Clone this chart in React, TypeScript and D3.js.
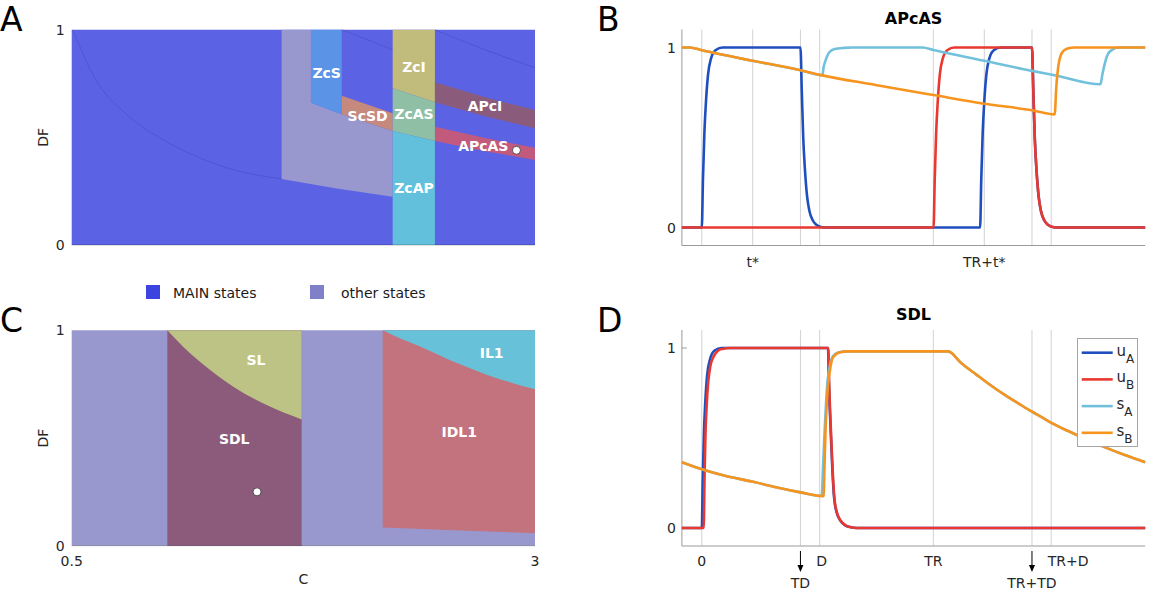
import * as d3 from "d3";

type P = [number, number];

// ---------- parameter plane (C, DF) : region outlines ----------
const mainA: P[] = [[0.5, 0], [3, 0], [3, 1], [0.5, 1]];
const otherA: P[] = [[1.633, 1], [1.791, 1], [1.791, 0.661], [1.957, 0.607], [2.232, 0.529], [2.232, 0.224], [1.93, 0.262], [1.633, 0.307]];
const zcsA: P[] = [[1.791, 1], [1.957, 1], [1.957, 0.607], [1.791, 0.661]];
const scsdA: P[] = [[1.957, 0.693], [2.232, 0.612], [2.232, 0.529], [1.957, 0.607]];
const zciA: P[] = [[2.232, 1], [2.46, 1], [2.46, 0.663], [2.232, 0.728]];
const zcasA: P[] = [[2.232, 0.728], [2.46, 0.663], [2.46, 0.483], [2.232, 0.529]];
const zcapA: P[] = [[2.232, 0.529], [2.46, 0.483], [2.46, 0], [2.232, 0]];
const apciA: P[] = [[2.46, 0.756], [2.73, 0.686], [3, 0.627], [3, 0.542], [2.73, 0.598], [2.46, 0.663]];
const apcasA: P[] = [[2.46, 0.549], [2.73, 0.497], [3, 0.452], [3, 0.395], [2.73, 0.436], [2.46, 0.483]];

// faint contour lines inside the MAIN area
const edgeA1: P[] = [[0.507, 1], [0.615, 0.79], [0.799, 0.604], [0.977, 0.497], [1.155, 0.418], [1.339, 0.358], [1.633, 0.307]];
const edgeA2: P[] = [[1.957, 1], [2.1, 0.952], [2.232, 0.907]];
const edgeA3: P[] = [[2.46, 1], [2.73, 0.907], [3, 0.823]];

const labelsA: [string, number, number][] = [
  ["ZcS", 1.876, 0.798], ["ZcI", 2.347, 0.828], ["ScSD", 2.097, 0.6], ["ZcAS", 2.347, 0.607],
  ["APcI", 2.73, 0.647], ["APcAS", 2.721, 0.461], ["ZcAP", 2.347, 0.263],
];
const dotA: P = [2.9, 0.44];

const otherC: P[] = [[0.5, 0], [3, 0], [3, 1], [0.5, 1]];
const sdlC: P[] = [[1.016, 0], [1.741, 0], [1.741, 1], [1.016, 1]];
const idlC: P[] = [[2.178, 0.084], [2.6, 0.07], [3, 0.058], [3, 1], [2.178, 1]];
// curved upper boundaries (left to right); the shapes close along the top edge
const slEdgeC: P[] = [[1.016, 1], [1.1, 0.925], [1.192, 0.854], [1.372, 0.738], [1.552, 0.653], [1.741, 0.586]];
const ilEdgeC: P[] = [[2.178, 1], [2.28, 0.96], [2.38, 0.925], [2.559, 0.855], [2.739, 0.794], [3, 0.726]];

const labelsC: [string, number, number][] = [
  ["SL", 1.494, 0.864], ["SDL", 1.377, 0.494], ["IL1", 2.766, 0.893], ["IDL1", 2.591, 0.526],
];
const dotC: P = [1.5, 0.25];

// ---------- time courses (t in units with TR = 100) ----------
const TR = 100;
const TSTAR = 22;
const TD = 42.6;
const DUR = 50.9;

const bUA: P[] = [[-8.6, 0], [0, 0], [0.5, 0.27], [1.1, 0.52], [1.8, 0.7], [2.7, 0.85], [4, 0.94], [5.9, 0.985], [9, 1],
  [42.6, 1], [43.2, 0.75], [43.8, 0.5], [44.5, 0.33], [45.5, 0.17], [46.5, 0.09], [47.9, 0.04], [49.5, 0.015], [51.5, 0.003], [54, 0],
  [120.2, 0], [120.7, 0.27], [121.3, 0.52], [122, 0.7], [122.9, 0.85], [124.2, 0.94], [126.1, 0.985], [129.2, 1],
  [142.6, 1], [143.2, 0.75], [143.8, 0.5], [144.5, 0.33], [145.5, 0.17], [146.5, 0.09], [147.9, 0.04], [149.5, 0.015], [151.5, 0.003], [154, 0], [191.5, 0]];
const bUB: P[] = [[-8.6, 0], [100.1, 0], [100.6, 0.27], [101.2, 0.52], [101.9, 0.7], [102.8, 0.85], [104.1, 0.94], [106, 0.985], [109.1, 1],
  [142.6, 1], [143.2, 0.75], [143.8, 0.5], [144.5, 0.33], [145.5, 0.17], [146.5, 0.09], [147.9, 0.04], [149.5, 0.015], [151.5, 0.003], [154, 0], [191.5, 0]];
const bSA: P[] = [[-8.6, 1], [-5.2, 1], [0, 0.985], [22, 0.926], [42.6, 0.874], [52.1, 0.846], [52.6, 0.89], [53.4, 0.926], [55, 0.972], [57.3, 0.991], [61.3, 0.998], [65, 1],
  [95.4, 1], [100.1, 0.986], [122, 0.926], [142.6, 0.87], [152.4, 0.846], [172.2, 0.796], [173, 0.85], [173.8, 0.898], [175.4, 0.963], [177.7, 0.991], [180.1, 1], [191.5, 1]];
const bSB: P[] = [[-8.6, 1], [-5.2, 1], [0, 0.985], [22, 0.926], [42.6, 0.874], [51, 0.848], [75, 0.792], [100.1, 0.736], [122, 0.688], [142.6, 0.651], [152.4, 0.628],
  [153.1, 0.78], [154, 0.898], [155.6, 0.972], [157.9, 0.994], [161.1, 1], [191.5, 1]];

const dUA: P[] = [[-8.6, 0], [0, 0], [0.4, 0.27], [0.9, 0.52], [1.5, 0.7], [2.3, 0.85], [3.6, 0.94], [5.4, 0.985], [8.5, 1],
  [54.5, 1], [54.9, 0.8], [55.7, 0.53], [56.4, 0.32], [57.2, 0.16], [58.4, 0.08], [59.9, 0.04], [61.9, 0.015], [63.9, 0.005], [67, 0], [191.5, 0]];
const dUB: P[] = [[-8.6, 0], [0.8, 0], [1.2, 0.3], [1.6, 0.53], [2.1, 0.68], [2.7, 0.8], [3.7, 0.9], [5, 0.95], [7, 0.985], [9, 0.995], [12, 1],
  [54.6, 1], [55, 0.8], [55.8, 0.53], [56.5, 0.32], [57.3, 0.16], [58.5, 0.08], [60, 0.04], [62, 0.015], [64, 0.005], [67, 0], [191.5, 0]];
const dSA: P[] = [[-8.6, 0.365], [0, 0.326], [10, 0.29], [21.7, 0.258], [32, 0.226], [42.6, 0.198], [51.8, 0.178],
  [52.3, 0.32], [52.9, 0.5], [53.6, 0.68], [54.2, 0.8], [55, 0.88], [55.8, 0.93], [57, 0.96], [58.9, 0.975], [62.9, 0.981],
  [106.4, 0.981], [112, 0.917], [118.3, 0.855], [124, 0.8], [131, 0.738], [137, 0.69], [142.6, 0.646], [147, 0.614], [151, 0.584],
  [158, 0.54], [164.3, 0.503], [170, 0.471], [175, 0.444], [183, 0.404], [191.5, 0.365]];
const dSB: P[] = [[-8.6, 0.365], [0, 0.326], [10, 0.29], [21.7, 0.258], [32, 0.226], [42.6, 0.198], [52.6, 0.176],
  [53, 0.35], [53.4, 0.528], [54, 0.7], [54.6, 0.806], [55.5, 0.89], [56.5, 0.944], [58, 0.965], [59.7, 0.976], [62.9, 0.981],
  [106.4, 0.981], [112, 0.917], [118.3, 0.855], [124, 0.8], [131, 0.738], [137, 0.69], [142.6, 0.646], [147, 0.614], [151, 0.584],
  [158, 0.54], [164.3, 0.503], [170, 0.471], [175, 0.444], [183, 0.404], [191.5, 0.365]];

const gridB = [0, TSTAR, TD, DUR, TR, TR + TSTAR, TR + TD, TR + DUR];
const gridD = [0, TD, DUR, TR, TR + TD, TR + DUR];
const tickTextB: [number, string][] = [[TSTAR, "t*"], [TR + TSTAR, "TR+t*"]];
const tickTextD: [number, string][] = [[0, "0"], [DUR, "D"], [TR, "TR"], [TR + DUR, "TR+D"]];
const arrowTextD: [number, string][] = [[TD, "TD"], [TR + TD, "TR+TD"]];

const legendNames: [string, string][] = [["u", "A"], ["u", "B"], ["s", "A"], ["s", "B"]];

// ---------- styles ----------
const FONT = "'DejaVu Sans', Verdana, sans-serif";
const INK = "#262626";
const lineColors = ["#1f4fbf", "#e8382f", "#72c1dc", "#f7941e"];

const xC = d3.scaleLinear().domain([0.5, 3]).range([71.7, 535]);
const yA = d3.scaleLinear().domain([0, 1]).range([245, 29.7]);
const yC = d3.scaleLinear().domain([0, 1]).range([545.7, 330.3]);
const xT = d3.scaleLinear().domain([-8.6, 191.5]).range([681.9, 1145.2]);
const yB = d3.scaleLinear().domain([-0.1, 1.1]).range([245.5, 29.5]);
const yD = d3.scaleLinear().domain([-0.1, 1.1]).range([546, 330]);

type S = d3.ScaleLinear<number, number>;

const poly = (pts: P[], y: S) => (d3.line<P>().x((d) => xC(d[0])).y((d) => y(d[1]))(pts) ?? "") + "Z";
const smooth = (pts: P[], y: S) =>
  d3.line<P>().x((d) => xC(d[0])).y((d) => y(d[1])).curve(d3.curveMonotoneX)(pts) ?? "";
// region bounded below by a smooth edge and above by DF = 1
const capShape = (edge: P[], y: S) => {
  const last = edge[edge.length - 1];
  return `${smooth(edge, y)}L${xC(last[0])},${y(1)}Z`;
};
const trace = (pts: P[], y: S) =>
  d3.line<P>().x((d) => xT(d[0])).y((d) => y(d[1])).curve(d3.curveMonotoneX)(pts) ?? "";

function PlaneAxes({ y, yLabelY, xTicks }: { y: S; yLabelY: number; xTicks: boolean }) {
  const [x0, x1] = xC.range();
  return (
    <g fontFamily={FONT} fill={INK}>
      <line x1={x0} x2={x1} y1={y(0)} y2={y(0)} stroke="#000" strokeOpacity={0.25} />
      {[0, 1].map((v) => (
        <text key={v} x={x0 - 7} y={y(v)} fontSize={14} textAnchor="end" dominantBaseline="central">{v}</text>
      ))}
      <text transform={`translate(${43},${yLabelY}) rotate(-90)`} fontSize={14} textAnchor="middle" dominantBaseline="central">DF</text>
      {xTicks && (
        <>
          <text x={xC(0.5)} y={566} fontSize={14} textAnchor="middle">0.5</text>
          <text x={xC(3)} y={566} fontSize={14} textAnchor="middle">3</text>
          <text x={(x0 + x1) / 2} y={584} fontSize={14} textAnchor="middle">C</text>
        </>
      )}
    </g>
  );
}

function RegionLabels({ items, y }: { items: [string, number, number][]; y: S }) {
  return (
    <g fontFamily={FONT} fontWeight="bold" fontSize={14} fill="#fff" textAnchor="middle">
      {items.map(([t, c, df]) => (
        <text key={t} x={xC(c)} y={y(df)} dominantBaseline="central">{t}</text>
      ))}
    </g>
  );
}

function TimeAxes({ y, grid, title, titleY }: { y: S; grid: number[]; title: string; titleY: number }) {
  const [x0, x1] = xT.range();
  const bottom = y.range()[0];
  const top = y.range()[1];
  return (
    <g fontFamily={FONT}>
      {grid.map((t) => (
        <line key={t} x1={xT(t)} x2={xT(t)} y1={top} y2={bottom} stroke="#d2d2d2" strokeWidth={1} />
      ))}
      <line x1={x0} x2={x1} y1={bottom} y2={bottom} stroke="#9a9a9a" />
      <line x1={x0} x2={x0} y1={top} y2={bottom} stroke="#9a9a9a" />
      {[0, 1].map((v) => (
        <g key={v}>
          <line x1={x0} x2={x0 + 5} y1={y(v)} y2={y(v)} stroke="#9a9a9a" />
          <text x={x0 - 6} y={y(v)} fontSize={14} fill={INK} textAnchor="end" dominantBaseline="central">{v}</text>
        </g>
      ))}
      <text x={(x0 + x1) / 2} y={titleY} fontSize={16} fontWeight="bold" fill="#000" textAnchor="middle">{title}</text>
    </g>
  );
}

function Traces({ sets, y }: { sets: P[][]; y: S }) {
  return (
    <g fill="none" strokeWidth={2.6} strokeLinejoin="round">
      {sets.map((s, i) => (
        <path key={i} d={trace(s, y)} stroke={lineColors[i]} />
      ))}
    </g>
  );
}

export default function App() {
  const regionsA: [P[], string][] = [
    [mainA, "#5c62e4"], [otherA, "#9898cf"], [zcsA, "#5b94e6"], [scsdA, "#c58a7d"],
    [zciA, "#c1bb7c"], [zcasA, "#8fc0a5"], [zcapA, "#62c0dc"], [apciA, "#8b5b7c"], [apcasA, "#c25a7e"],
  ];
  const regionsC: [P[], string][] = [
    [otherC, "#9898cf"], [sdlC, "#8c5b7b"], [idlC, "#c3737d"],
  ];
  const yBottomD = yD.range()[0];

  return (
    <div style={{ position: "absolute", left: 0, top: 0 }}>
      <svg width={1166} height={590} style={{ display: "block", background: "#fff" }}>
        {/* panel letters */}
        <g fontFamily={FONT} fontSize={33} fill="#000">
          <text x={0} y={31}>A</text>
          <text x={597} y={31}>B</text>
          <text x={0} y={332}>C</text>
          <text x={597} y={332}>D</text>
        </g>

        {/* A */}
        {regionsA.map(([pts, fill], i) => (
          <path key={i} d={poly(pts, yA)} fill={fill} />
        ))}
        {[edgeA1, edgeA2, edgeA3].map((e, i) => (
          <path key={i} d={smooth(e, yA)} fill="none" stroke="#3c40b8" strokeOpacity={0.55} strokeWidth={0.7} />
        ))}
        <RegionLabels items={labelsA} y={yA} />
        <circle cx={xC(dotA[0])} cy={yA(dotA[1])} r={4} fill="#fff" stroke="#333" strokeWidth={0.8} />
        <PlaneAxes y={yA} yLabelY={(yA(0) + yA(1)) / 2} xTicks={false} />

        {/* legend between A and C */}
        <g fontFamily={FONT} fontSize={14} fill="#1a1a1a">
          <rect x={146} y={285} width={14} height={14} fill="#3c44e0" />
          <text x={173} y={298}>MAIN states</text>
          <rect x={310} y={285} width={14} height={14} fill="#8080c8" />
          <text x={341} y={298}>other states</text>
        </g>

        {/* C */}
        {regionsC.map(([pts, fill], i) => (
          <path key={i} d={poly(pts, yC)} fill={fill} />
        ))}
        <path d={capShape(slEdgeC, yC)} fill="#bdc285" />
        <path d={capShape(ilEdgeC, yC)} fill="#67c1d8" />
        <RegionLabels items={labelsC} y={yC} />
        <circle cx={xC(dotC[0])} cy={yC(dotC[1])} r={4} fill="#fff" stroke="#333" strokeWidth={0.8} />
        <PlaneAxes y={yC} yLabelY={(yC(0) + yC(1)) / 2} xTicks={true} />

        {/* B */}
        <TimeAxes y={yB} grid={gridB} title="APcAS" titleY={24} />
        <Traces sets={[bUA, bUB, bSA, bSB]} y={yB} />
        <g fontFamily={FONT} fontSize={14} fill={INK} textAnchor="middle">
          {tickTextB.map(([t, s]) => (
            <text key={s} x={xT(t)} y={267}>{s}</text>
          ))}
        </g>

        {/* D */}
        <TimeAxes y={yD} grid={gridD} title="SDL" titleY={320} />
        <Traces sets={[dUA, dUB, dSA, dSB]} y={yD} />
        <g fontFamily={FONT} fontSize={14} fill={INK} textAnchor="middle">
          {tickTextD.map(([t, s]) => (
            <text key={s} x={xT(t) + (s === "TR+D" ? 17 : s === "D" ? 2 : 0)} y={yBottomD + 20}>{s}</text>
          ))}
          {arrowTextD.map(([t, s]) => (
            <g key={s}>
              <line x1={xT(t)} x2={xT(t)} y1={yBottomD + 5} y2={yBottomD + 20} stroke="#000" strokeWidth={1} />
              <path d={`M${xT(t) - 3},${yBottomD + 19}L${xT(t) + 3},${yBottomD + 19}L${xT(t)},${yBottomD + 26}Z`} fill="#000" />
              <text x={xT(t)} y={yBottomD + 42}>{s}</text>
            </g>
          ))}
        </g>

        {/* legend D */}
        <g fontFamily={FONT}>
          <rect x={1077.5} y={338.5} width={60} height={108} fill="#fff" stroke="#a6a6a6" />
          {legendNames.map(([m, sub], i) => {
            const ly = 352.7 + i * 26.7;
            return (
              <g key={i}>
                <line x1={1081.7} x2={1112.7} y1={ly} y2={ly} stroke={lineColors[i]} strokeWidth={2.6} />
                <text x={1116.5} y={ly + 3} fontSize={15} fill={INK}>
                  {m}
                  <tspan dy={7} fontSize={12}>{sub}</tspan>
                </text>
              </g>
            );
          })}
        </g>
      </svg>
    </div>
  );
}
